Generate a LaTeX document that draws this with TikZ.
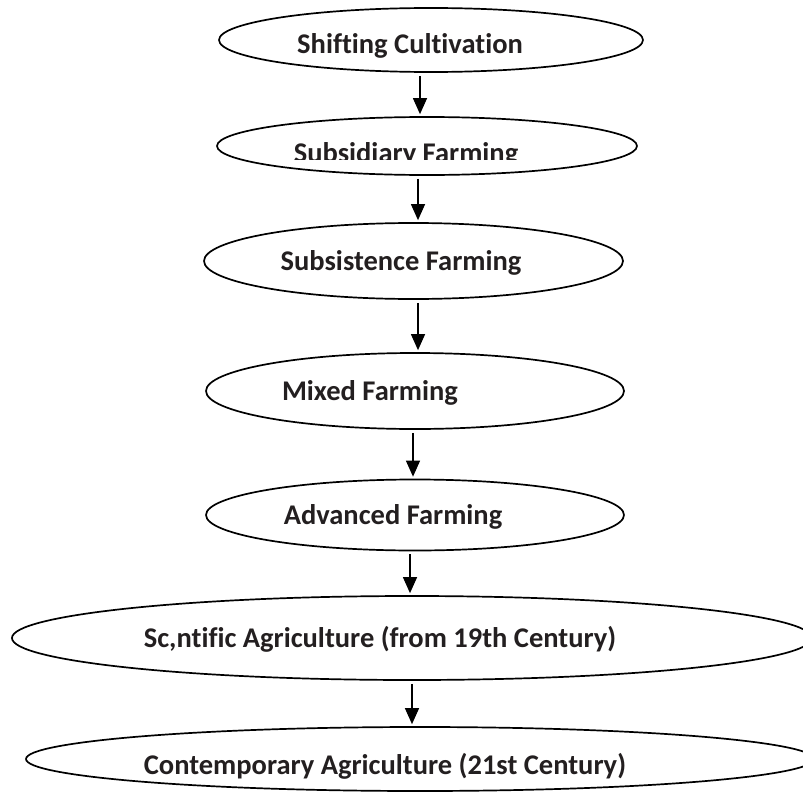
\documentclass[tikz,border=0pt]{standalone}
\usepackage{fontspec}
\setmainfont[Ligatures=NoCommon]{Carlito}
\usetikzlibrary{shapes.geometric,arrows.meta}
\definecolor{ink}{HTML}{231F20}
\begin{document}
\begin{tikzpicture}[x=1pt,y=-1pt,
  oval/.style={draw=black,line width=1.7pt,ellipse,inner sep=0pt},
  lbl/.style={font=\bfseries\fontsize{28.5}{34}\selectfont,text=ink,inner sep=0pt,anchor=base},
  arr/.style={line width=1.2pt,-{Triangle[length=16pt,width=14pt]},shorten <=3pt,shorten >=2pt}]
\clip (0,0) rectangle (803,792);
\fill[white] (0,0) rectangle (803,792);

% stages
\node[oval,minimum width=424pt,minimum height=64pt] (e1) at (431,40) {};
\node[oval,minimum width=420pt,minimum height=58pt] (e2) at (427,146) {};
\node[oval,minimum width=419pt,minimum height=76pt] (e3) at (413.5,261) {};
\node[oval,minimum width=418pt,minimum height=76pt] (e4) at (415,391) {};
\node[oval,minimum width=418pt,minimum height=71pt] (e5) at (415,515) {};
\node[oval,minimum width=800pt,minimum height=84pt] (e6) at (412,638) {};
\node[oval,minimum width=788pt,minimum height=64pt] (e7) at (420,759) {};

% labels
\node[lbl] (t1) at (410,53) {Shifting Cultivation};
\begin{scope}
  \clip (250,120) rectangle (560,159.5);
  \node[lbl] (t2) at (406,162) {Subsidiary Farming};
\end{scope}
\node[lbl] (t3) at (401,270) {Subsistence Farming};
\node[lbl] (t4) at (370,400) {Mixed Farming};
\node[lbl] (t5) at (393,524) {Advanced Farming};
\node[lbl] (t6) at (380,647) {Sc,ntific Agriculture (from 19th Century)};
\node[lbl] (t7) at (385,774) {Contemporary Agriculture (21st Century)};

% flow
\draw[arr] ([xshift=-11pt]e1.south) -- ([xshift=-11pt]e1.south |- e2.north);
\draw[arr] ([xshift=-9pt]e2.south) -- ([xshift=-9pt]e2.south |- e3.north);
\draw[arr] ([xshift=4.5pt]e3.south) -- ([xshift=4.5pt]e3.south |- e4.north);
\draw[arr] ([xshift=-2pt]e4.south) -- ([xshift=-2pt]e4.south |- e5.north);
\draw[arr] ([xshift=-5pt]e5.south) -- ([xshift=-5pt]e5.south |- e6.north);
\draw[arr] (e6.south) -- (e6.south |- e7.north);
\end{tikzpicture}
\end{document}
